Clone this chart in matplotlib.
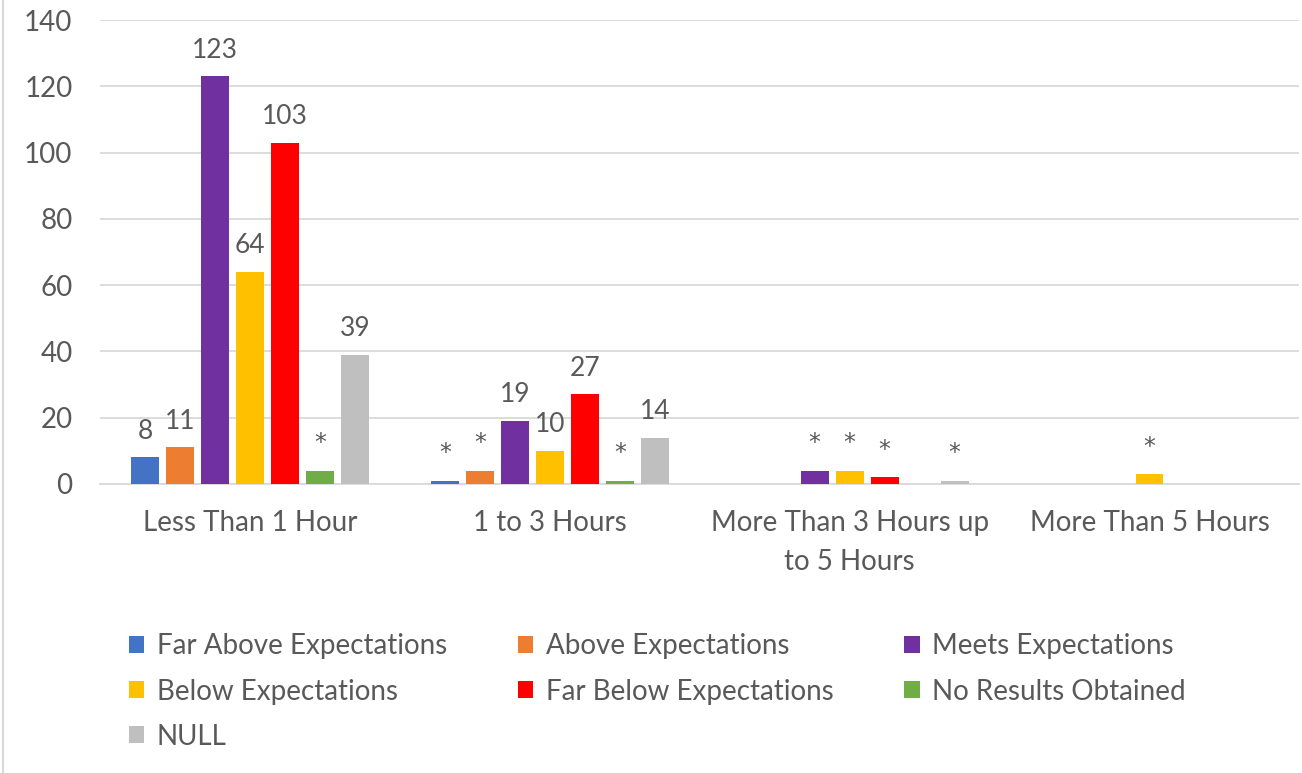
import numpy as np
import matplotlib.pyplot as plt
from matplotlib.patches import Patch
from matplotlib.lines import Line2D

# =============================================================================
# DATA
# =============================================================================
categorias = ["Less Than 1 Hour", "1 to 3 Hours",
              "More Than 3 Hours up\nto 5 Hours", "More Than 5 Hours"]
series = ["Far Above Expectations", "Above Expectations", "Meets Expectations",
          "Below Expectations", "Far Below Expectations", "No Results Obtained",
          "NULL"]
valores = {
    "Far Above Expectations": [8, 1, 0, 0],
    "Above Expectations":     [11, 4, 0, 0],
    "Meets Expectations":     [123, 19, 4, 0],
    "Below Expectations":     [64, 10, 4, 3],
    "Far Below Expectations": [103, 27, 2, 0],
    "No Results Obtained":    [4, 1, 0, 0],
    "NULL":                   [39, 14, 1, 0],
}
colores = ["#4472C4", "#ED7D31", "#7030A0", "#FFC000", "#FF0000", "#70AD47", "#BFBFBF"]

TXT = "#595959"
GRID = "#D9D9D9"
FS = 20
plt.rcParams['font.family'] = ['Lato', 'DejaVu Sans']

# =============================================================================
# FIGURA
# =============================================================================
fig = plt.figure(figsize=(13.02, 7.73), dpi=100)
ax = fig.add_axes([0.077, 0.374, 0.921, 0.600])

x = np.arange(len(categorias))
paso = 0.1167
ancho = 0.093

for i, (nombre, color) in enumerate(zip(series, colores)):
    vals = valores[nombre]
    pos = x + (i - 3) * paso
    ax.bar(pos, vals, width=ancho, color=color, zorder=3)
    for p, v in zip(pos, vals):
        if v == 0:
            continue
        if v < 5:
            # valores pequeños ocultos con asterisco
            ax.annotate("*", (p, v), xytext=(0, 11), textcoords="offset points",
                        ha="center", va="bottom", fontsize=17, color=TXT,
                        family="DejaVu Sans")
        else:
            ax.annotate(str(v), (p, v), xytext=(0, 10), textcoords="offset points",
                        ha="center", va="bottom", fontsize=FS - 1, color=TXT)

ax.set_xlim(-0.5, 3.5)
ax.set_ylim(0, 140)
ax.set_yticks(range(0, 141, 20))
ax.yaxis.grid(True, color=GRID, linewidth=1.3, zorder=0)
ax.set_xticks(x)
ax.set_xticklabels(categorias, linespacing=1.6)
ax.tick_params(axis="both", length=0, labelsize=FS, colors=TXT)
ax.tick_params(axis="y", pad=20)
ax.tick_params(axis="x", pad=19)
for s in ["top", "right", "left"]:
    ax.spines[s].set_visible(False)
ax.spines["bottom"].set_color(GRID)
ax.spines["bottom"].set_linewidth(1.3)

# borde izquierdo del área del gráfico
fig.add_artist(Line2D([0.0025, 0.0025], [0, 1], transform=fig.transFigure,
                      color=GRID, linewidth=1.5))

# leyenda (orden por filas como en Excel)
orden = [0, 3, 6, 1, 4, 2, 5]
handles = [Patch(facecolor=colores[k], edgecolor="none") for k in orden]
labels = [series[k] for k in orden]
fig.legend(handles, labels, ncol=3, loc="upper left",
           bbox_to_anchor=(0.080, 0.213), frameon=False, fontsize=FS,
           labelcolor=TXT, handlelength=0.55, handleheight=0.55,
           handletextpad=0.45, columnspacing=2.55, labelspacing=0.69)

plt.savefig("out.png", dpi=100)
